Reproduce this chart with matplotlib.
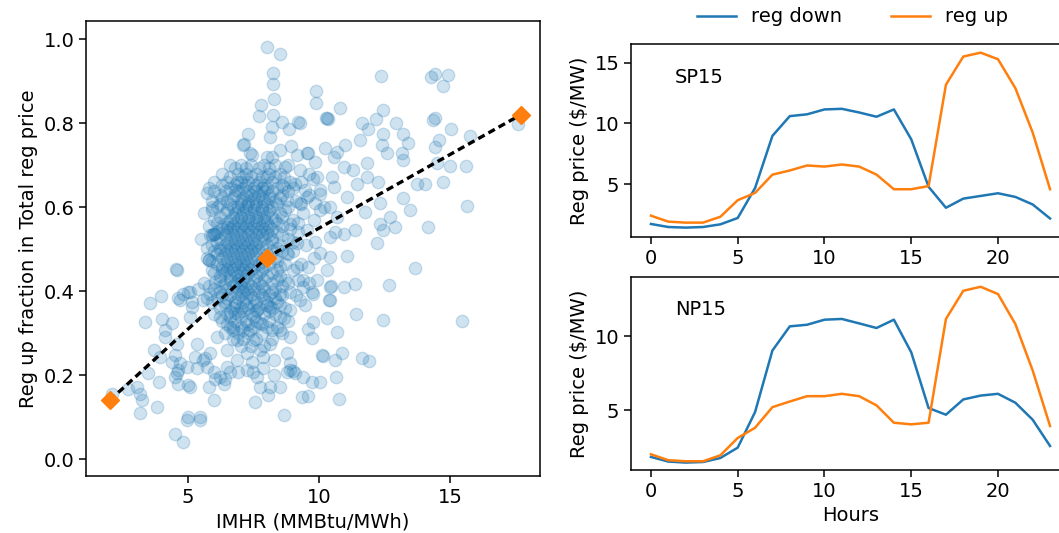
import matplotlib
matplotlib.use("Agg")
import matplotlib.pyplot as plt

plt.rcParams['font.family'] = ['DejaVu Sans']
plt.rcParams['font.size'] = 14
plt.rcParams['axes.linewidth'] = 1.1
plt.rcParams['xtick.major.width'] = 1.1
plt.rcParams['ytick.major.width'] = 1.1
plt.rcParams['xtick.major.size'] = 4.9
plt.rcParams['ytick.major.size'] = 4.9

# ---------------- scatter data (IMHR vs reg up fraction) ----------------
sparse_x = [8.0, 8.51, 8.23, 8.23, 8.26, 7.79, 7.70, 8.23, 8.58, 8.19, 8.13, 8.83, 9.21, 9.89, 9.89,
            7.30, 7.11, 8.51, 8.92, 9.15, 9.59, 8.0, 7.43, 8.70, 9.27, 9.85, 8.64, 6.86, 6.48, 5.97, 5.93,
            10.29, 10.23, 10.68, 8.19, 9.78, 8.64, 9.08, 9.47, 10.04, 10.48, 8.76, 9.27, 9.85, 10.42, 8.0,
            7.14, 7.37, 6.77,
            12.37, 14.26, 14.43, 14.91, 14.72, 10.8, 12.43, 10.35, 10.25, 11.62, 12.18, 12.94, 14.43, 14.36,
            15.02, 15.76, 17.6, 9.27, 9.53, 11.0, 11.56, 11.88, 12.45, 12.39, 12.58, 13.15, 13.4, 13.21,
            14.59, 14.43, 13.21, 14.51, 15.0, 15.6, 14.71, 13.72, 14.04, 15.63, 13.21, 13.47, 14.17, 12.71,
            12.9, 12.33, 12.2, 11.76, 12.33, 11.37, 10.68, 10.93, 11.82, 12.26, 11.43, 11.31, 11.82, 10.93,
            10.55, 9.91, 10.04, 10.55, 11.05, 9.53, 10.04,
            12.43, 13.66, 12.68, 15.44, 11.37, 10.93, 10.45, 10.36, 11.06, 11.41, 12.42, 10.29, 9.78, 9.59,
            9.72, 10.68, 10.14, 10.86, 10.61, 11.65, 11.92, 10.65, 9.72, 10.04, 10.74, 9.59, 9.34, 9.4, 9.47,
            9.72,
            10.1, 8.64, 7.56, 8.06, 8.13, 8.51, 7.49, 7.87, 8.26, 8.76, 9.08, 5.97, 5.01, 5.46, 5.08, 5.78,
            6.35, 6.41, 5.58, 5.97, 6.6, 4.56, 4.69, 4.5, 5.33, 5.33, 5.65,
            6.22, 6.79, 7.37, 6.86, 6.48, 7.24, 7.75, 8.13, 8.51, 8.89, 8.76, 8.26, 7.75, 8.64, 8.89, 9.0,
            6.09, 5.84, 6.73, 7.49, 6.86, 7.43, 7.87,
            4.54, 5.78, 3.97, 3.55, 3.36, 4.0, 4.82, 5.08, 5.39, 4.69, 5.14, 5.71, 4.12, 4.12, 4.38, 3.68,
            3.93, 4.38, 4.63, 4.5, 4.95, 4.63, 5.01, 3.48, 3.87, 3.04, 3.17, 3.23, 3.17, 3.8, 2.09, 2.72,
            4.5, 4.82, 4.95, 5.46, 6.03, 5.71, 5.27, 4.57, 6.22, 8.89, 9.4, 6.92, 7.24, 7.62, 7.75, 6.48,
            4.57, 6.03, 5.84, 5.78, 6.22, 6.28, 6.03, 5.01, 4.63, 5.14, 5.58, 5.84, 5.08,
            10.42, 10.04, 10.29, 9.91, 10.42, 9.78, 10.42, 9.27, 8.89, 9.4, 9.59, 9.85, 10.42, 9.53, 8.89,
            9.15, 8.76, 9.15, 8.7, 8.51, 8.13, 7.62, 5.73, 5.9]
sparse_y = [0.982, 0.964, 0.92, 0.892, 0.857, 0.843, 0.817, 0.819, 0.803, 0.791, 0.767, 0.787, 0.803, 0.876, 0.848,
            0.775, 0.748, 0.736, 0.745, 0.724, 0.729, 0.72, 0.724, 0.696, 0.688, 0.708, 0.672, 0.66, 0.553, 0.537, 0.535,
            0.811, 0.74, 0.731, 0.72, 0.668, 0.648, 0.656, 0.64, 0.632, 0.672, 0.617, 0.609, 0.609, 0.601, 0.672,
            0.751, 0.728, 0.64,
            0.913, 0.91, 0.917, 0.914, 0.888, 0.837, 0.831, 0.809, 0.812, 0.801, 0.809, 0.80, 0.813, 0.808,
            0.786, 0.769, 0.799, 0.801, 0.728, 0.748, 0.76, 0.787, 0.775, 0.748, 0.728, 0.728, 0.752, 0.775,
            0.76, 0.742, 0.712, 0.704, 0.698, 0.698, 0.659, 0.656, 0.655, 0.603, 0.621, 0.593, 0.553, 0.577,
            0.553, 0.561, 0.514, 0.589, 0.609, 0.545, 0.577, 0.537, 0.672, 0.66, 0.656, 0.688, 0.704, 0.696,
            0.72, 0.672, 0.64, 0.648, 0.624, 0.624, 0.593,
            0.545, 0.456, 0.414, 0.329, 0.417, 0.41, 0.412, 0.38, 0.483, 0.345, 0.331, 0.335, 0.327, 0.311,
            0.289, 0.303, 0.246, 0.252, 0.237, 0.24, 0.233, 0.196, 0.184, 0.184, 0.144, 0.151, 0.148, 0.41, 0.367,
            0.398,
            0.248, 0.105, 0.136, 0.152, 0.171, 0.172, 0.208, 0.216, 0.2, 0.208, 0.204, 0.14, 0.101, 0.101, 0.172, 0.172,
            0.18, 0.192, 0.236, 0.208, 0.208, 0.204, 0.228, 0.248, 0.216, 0.275, 0.24,
            0.339, 0.347, 0.307, 0.283, 0.26, 0.252, 0.26, 0.275, 0.307, 0.291, 0.252, 0.236, 0.323, 0.335, 0.228, 0.21,
            0.291, 0.252, 0.315, 0.283, 0.236, 0.232, 0.244,
            0.452, 0.475, 0.388, 0.371, 0.327, 0.333, 0.394, 0.398, 0.404, 0.379, 0.375, 0.383, 0.307, 0.291, 0.323, 0.26,
            0.244, 0.232, 0.212, 0.196, 0.22, 0.18, 0.176, 0.204, 0.184, 0.172, 0.156, 0.14, 0.109, 0.125, 0.156, 0.168,
            0.061, 0.041, 0.093, 0.093, 0.192, 0.22, 0.244, 0.275, 0.196, 0.212, 0.196, 0.208, 0.212, 0.196, 0.172, 0.22,
            0.45, 0.537, 0.533, 0.474, 0.498, 0.45, 0.422, 0.398, 0.383, 0.363, 0.379, 0.394, 0.339,
            0.482, 0.49, 0.45, 0.426, 0.41, 0.394, 0.379, 0.379, 0.355, 0.426, 0.458, 0.517, 0.529, 0.545, 0.561,
            0.514, 0.49, 0.458, 0.426, 0.394, 0.363, 0.355, 0.633, 0.6]

# dense core, read row by row: (reg up fraction, IMHR values in that row)
core_rows = [
    (0.700, [6.6, 7.0, 7.4, 7.9, 8.3, 8.8]),
    (0.6925, [6.8, 7.2, 7.7, 8.1]),
    (0.680, [6.3, 6.9, 7.2, 7.6, 8.1, 8.5, 9.6]),
    (0.6725, [6.6, 7.1, 7.4, 7.8, 8.3]),
    (0.660, [6.0, 6.5, 7.0, 7.3, 7.7, 8.2, 8.9, 9.3]),
    (0.6525, [6.3, 6.8, 7.2, 7.6, 7.9, 8.6]),
    (0.645, [5.8, 6.6, 7.1, 7.5, 7.8, 8.0, 8.4, 9.0]),
    (0.6375, [6.0, 6.4, 6.9, 7.3, 7.6, 7.9, 8.2, 8.8]),
    (0.630, [6.2, 6.8, 7.2, 7.4, 7.7, 8.1, 8.6, 9.6]),
    (0.6225, [6.3, 6.7, 7.1, 7.5, 7.8, 8.1, 8.5]),
    (0.615, [5.9, 6.5, 7.0, 7.3, 7.6, 7.9, 8.3, 9.1]),
    (0.6075, [6.2, 6.6, 7.0, 7.3, 7.6, 8.0, 8.4, 9.3]),
    (0.600, [6.1, 6.7, 6.9, 7.2, 7.5, 7.8, 8.2, 8.8, 10.2]),
    (0.5925, [5.9, 6.5, 6.9, 7.2, 7.5, 7.8, 8.1, 8.7]),
    (0.585, [5.6, 6.4, 6.8, 7.1, 7.4, 7.7, 8.0, 8.5, 9.4]),
    (0.5775, [6.2, 6.7, 7.0, 7.3, 7.6, 7.9, 8.2, 8.6]),
    (0.570, [6.0, 6.6, 6.9, 7.3, 7.6, 7.9, 8.3, 9.0, 9.8]),
    (0.5625, [6.1, 6.5, 6.8, 7.1, 7.4, 7.7, 8.0, 8.4, 9.2]),
    (0.555, [5.8, 6.3, 6.7, 7.0, 7.2, 7.5, 7.8, 8.1, 8.6]),
    (0.5475, [6.3, 6.6, 6.9, 7.3, 7.6, 7.9, 8.2, 8.9]),
    (0.540, [6.1, 6.5, 6.8, 7.1, 7.4, 7.7, 8.0, 8.4, 9.2, 10.6]),
    (0.5325, [5.9, 6.4, 6.7, 7.0, 7.3, 7.6, 7.8, 8.1, 8.6]),
    (0.525, [5.5, 6.2, 6.6, 6.9, 7.2, 7.5, 7.9, 8.2, 8.8]),
    (0.5175, [6.1, 6.5, 6.8, 7.1, 7.4, 7.7, 8.2, 9.0]),
    (0.510, [5.9, 6.4, 6.7, 7.0, 7.3, 7.6, 8.0, 8.5, 9.5]),
    (0.5025, [5.7, 6.2, 6.6, 6.9, 7.2, 7.5, 7.8, 8.4]),
    (0.495, [6.0, 6.5, 6.8, 7.1, 7.4, 7.7, 8.2, 8.6, 9.0]),
    (0.4875, [6.1, 6.4, 6.7, 7.0, 7.3, 7.6, 8.0, 8.8]),
    (0.480, [5.7, 6.3, 6.6, 6.9, 7.2, 7.5, 7.9, 8.3, 9.8]),
    (0.4725, [5.9, 6.5, 6.8, 7.1, 7.4, 7.8, 8.4]),
    (0.465, [6.1, 6.4, 6.8, 7.0, 7.3, 7.7, 8.1, 8.7, 9.3]),
    (0.4575, [6.3, 6.6, 6.9, 7.2, 7.5, 7.9, 8.5]),
    (0.450, [5.9, 6.5, 6.7, 7.1, 7.4, 7.8, 8.4, 9.0]),
    (0.4425, [6.0, 6.4, 6.8, 7.0, 7.3, 7.7, 8.2]),
    (0.435, [6.2, 6.6, 6.9, 7.2, 7.6, 8.0, 8.5]),
    (0.4275, [6.2, 6.6, 6.9, 7.1, 7.5, 7.9, 8.4, 9.2]),
    (0.420, [5.6, 6.4, 6.8, 7.0, 7.3, 7.7, 8.2, 8.8, 9.6]),
    (0.4125, [5.8, 6.3, 6.7, 7.0, 7.4, 7.8, 8.6]),
    (0.405, [6.0, 6.5, 6.9, 7.2, 7.5, 7.9, 8.3]),
    (0.3975, [6.2, 6.8, 7.1, 7.3, 7.7, 8.2, 8.9]),
    (0.390, [6.3, 6.6, 7.0, 7.4, 7.8, 8.1, 8.6, 9.1]),
    (0.3825, [6.1, 6.5, 6.9, 7.2, 7.5, 7.9, 8.3]),
    (0.375, [5.9, 6.4, 6.8, 7.1, 7.6, 8.0, 8.4]),
    (0.3675, [6.4, 6.8, 7.2, 7.5, 8.0, 8.5]),
    (0.360, [6.2, 6.7, 7.0, 7.3, 7.7, 8.2, 8.7]),
    (0.3525, [6.6, 7.1, 7.6, 8.1]),
    (0.345, [6.0, 6.5, 6.9, 7.4, 7.9, 8.3]),
    (0.3375, [6.6, 7.0, 7.5, 8.5]),
    (0.330, [6.3, 6.8, 7.2, 7.6, 8.1, 8.8]),
    (0.3225, [6.5, 7.3, 7.8]),
    (0.315, [6.6, 7.0, 7.5, 8.0, 8.4]),
    (0.3075, [6.7, 7.1, 8.2]),
    (0.300, [6.4, 6.9, 7.3, 7.8, 8.6]),
    (0.285, [6.7, 7.1, 7.6, 8.2]),
    (0.270, [7.0, 7.4, 7.9]),
]

fit_x = [2.0, 8.0, 17.7]
fit_y = [0.14, 0.48, 0.82]

# ---------------- hourly regulation prices ----------------
hours = list(range(24))
sp15_down = [1.75, 1.5, 1.45, 1.5, 1.72, 2.24, 4.7, 8.98, 10.6, 10.75, 11.15, 11.2,
             10.9, 10.55, 11.15, 8.7, 4.8, 3.08, 3.83, 4.05, 4.27, 3.97, 3.35, 2.2]
sp15_up = [2.43, 1.94, 1.86, 1.86, 2.34, 3.7, 4.3, 5.8, 6.14, 6.55, 6.46, 6.63,
           6.46, 5.8, 4.6, 4.6, 4.86, 13.18, 15.49, 15.81, 15.27, 12.9, 9.25, 4.6]
np15_down = [1.86, 1.55, 1.48, 1.52, 1.79, 2.49, 4.89, 9.04, 10.67, 10.78, 11.12, 11.17,
             10.87, 10.56, 11.12, 8.92, 5.16, 4.71, 5.74, 6.0, 6.12, 5.52, 4.37, 2.6]
np15_up = [2.04, 1.64, 1.57, 1.57, 1.97, 3.14, 3.83, 5.22, 5.6, 5.96, 5.96, 6.12,
           5.96, 5.34, 4.17, 4.06, 4.17, 11.17, 13.07, 13.34, 12.85, 10.83, 7.69, 3.95]

blue = '#1f77b4'
orange = '#ff7f0e'

W, H = 1059, 533
fig = plt.figure(figsize=(W / 100, H / 100), dpi=100)

def frac(l, t, r, b):
    return [l / W, 1 - b / H, (r - l) / W, (b - t) / H]

ax = fig.add_axes(frac(86, 21, 540, 476))
core_x = [x for _, xs in core_rows for x in xs]
core_y = [y for y, xs in core_rows for _ in xs]
ax.scatter(sparse_x + core_x, sparse_y + core_y, s=80, color=blue, alpha=0.21, linewidths=1.0)
ax.plot(fit_x, fit_y, color='black', lw=2.4, linestyle=(0, (2.2, 1.3)), marker='D',
        markersize=9, markerfacecolor=orange, markeredgecolor=orange, zorder=3)
ax.set_xlim(1.1, 18.43)
ax.set_ylim(-0.04, 1.043)
ax.set_xticks([5, 10, 15])
ax.set_yticks([0.0, 0.2, 0.4, 0.6, 0.8, 1.0])
ax.set_xlabel('IMHR (MMBtu/MWh)')
ax.set_ylabel('Reg up fraction in Total reg price')

ax1 = fig.add_axes(frac(631, 44, 1070, 237))
l1, = ax1.plot(hours, sp15_down, color=blue, lw=1.8, label='reg down')
l2, = ax1.plot(hours, sp15_up, color=orange, lw=1.8, label='reg up')
ax1.set_xlim(-1.15, 24.15)
ax1.set_ylim(0.68, 16.52)
ax1.set_xticks([0, 5, 10, 15, 20])
ax1.set_yticks([5, 10, 15])
ax1.set_ylabel('Reg price ($/MW)')
ax1.text(0.1, 0.824, 'SP15', transform=ax1.transAxes, va='center', ha='left')

ax2 = fig.add_axes(frac(631, 277, 1070, 470))
ax2.plot(hours, np15_down, color=blue, lw=1.8)
ax2.plot(hours, np15_up, color=orange, lw=1.8)
ax2.set_xlim(-1.15, 24.15)
ax2.set_ylim(0.98, 14.0)
ax2.set_xticks([0, 5, 10, 15, 20])
ax2.set_yticks([5, 10])
ax2.set_ylabel('Reg price ($/MW)')
ax2.set_xlabel('Hours')
ax2.text(0.1, 0.83, 'NP15', transform=ax2.transAxes, va='center', ha='left')

fig.legend(handles=[l1, l2], loc='upper center', bbox_to_anchor=(0.805, 1.019), ncol=2,
           frameon=False, handlelength=2.0, columnspacing=2.5)

fig.savefig('out.png', dpi=100)
